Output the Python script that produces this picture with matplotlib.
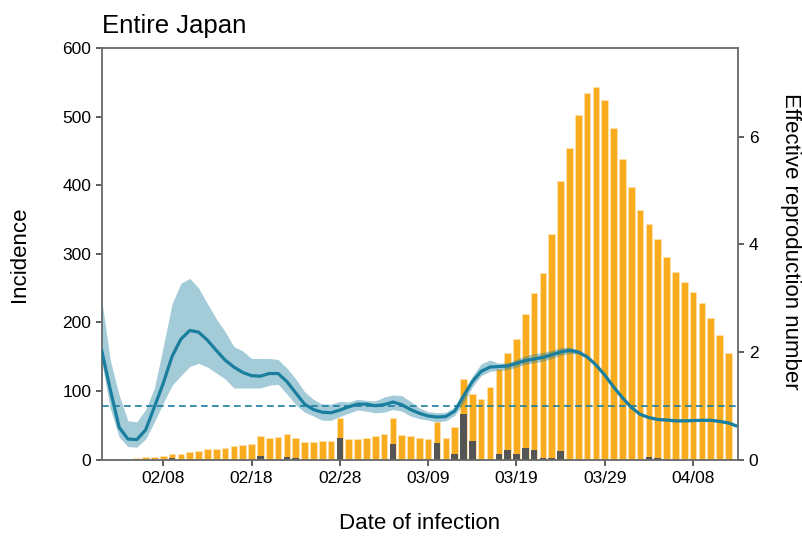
import matplotlib
matplotlib.use('Agg')
import matplotlib.pyplot as plt
import matplotlib.dates as mdates
import pandas as pd

plt.rcParams['font.family'] = ['Liberation Sans', 'DejaVu Sans']

# daily incidence by date of infection, 02/01 .. 04/12
bar_dates = pd.date_range('2020-02-01', '2020-04-12')
incidence = [0, 1, 1, 0, 2, 3, 4, 5.5, 8.5, 8.5,
             11, 13, 15.5, 16, 17, 19, 20.5, 23, 35, 31.5,
             33, 37.5, 32, 25.7, 26, 27, 27, 61, 29.6, 30.5,
             31.9, 34.4, 36.9, 60.3, 35.4, 33.7, 31.5, 30, 55, 31,
             47.5, 117, 96, 88, 106, 132, 156, 176, 213, 243,
             272, 329, 407, 454, 502, 535, 543, 524, 484, 438,
             398, 364, 344, 322, 295, 274, 258.5, 245, 228, 207,
             182, 155]
# imported cases (dark part of the bars)
imported = [0, 0, 0, 0, 0, 0, 0, 0, 2, 0,
            0, 0, 0, 0, 0, 0, 0, 0, 5.5, 0,
            0, 4.2, 1.5, 0, 0, 0, 0, 32, 0, 0,
            0, 0, 0, 23, 0, 0, 0, 0, 24.3, 0,
            8.3, 66, 26.5, 0, 0, 8.5, 14, 7.5, 17, 14,
            2, 2, 12.5, 0, 0, 0, 0, 0, 0, 0,
            0, 0, 3.5, 2.5, 0, 0, 0, 0, 0, 0,
            0, 0]

# effective reproduction number, 02/01 .. 04/13
rt_dates = pd.date_range('2020-02-01', '2020-04-13')
rt = [2.05, 1.30, 0.60, 0.38, 0.37, 0.55, 0.98, 1.42, 1.92, 2.24,
      2.40, 2.37, 2.22, 2.03, 1.85, 1.72, 1.62, 1.56, 1.55, 1.60,
      1.60, 1.45, 1.24, 1.03, 0.93, 0.88, 0.87, 0.92, 0.98, 1.03,
      1.03, 1.00, 1.02, 1.07, 1.02, 0.93, 0.86, 0.81, 0.79, 0.80,
      0.90, 1.18, 1.45, 1.64, 1.72, 1.73, 1.74, 1.79, 1.84, 1.87,
      1.90, 1.95, 2.00, 2.03, 2.00, 1.91, 1.76, 1.57, 1.35, 1.15,
      0.97, 0.84, 0.78, 0.745, 0.735, 0.72, 0.72, 0.725, 0.73, 0.73,
      0.71, 0.68, 0.62]
rt_upper = [3.00, 1.85, 1.20, 0.72, 0.70, 0.93, 1.33, 2.10, 2.90, 3.28,
            3.37, 3.19, 2.90, 2.62, 2.38, 2.10, 2.02, 1.88, 1.88, 1.88,
            1.86, 1.70, 1.50, 1.26, 1.12, 1.03, 1.03, 1.08, 1.07, 1.12,
            1.10, 1.09, 1.16, 1.20, 1.19, 1.08, 0.96, 0.89, 0.87, 0.88,
            0.98, 1.25, 1.55, 1.78, 1.85, 1.79, 1.80, 1.86, 1.93, 1.97,
            1.99, 2.03, 2.08, 2.09, 2.04, 1.94, 1.79, 1.60, 1.38, 1.17,
            0.99, 0.86, 0.80, 0.765, 0.755, 0.74, 0.74, 0.745, 0.75, 0.75,
            0.73, 0.70, 0.64]
rt_lower = [1.85, 0.95, 0.42, 0.24, 0.23, 0.38, 0.70, 1.05, 1.38, 1.56,
            1.73, 1.79, 1.72, 1.61, 1.50, 1.33, 1.33, 1.33, 1.33, 1.38,
            1.40, 1.22, 1.02, 0.88, 0.81, 0.73, 0.73, 0.80, 0.86, 0.92,
            0.90, 0.87, 0.88, 0.93, 0.90, 0.81, 0.76, 0.73, 0.70, 0.72,
            0.82, 1.05, 1.35, 1.56, 1.64, 1.66, 1.67, 1.72, 1.77, 1.80,
            1.83, 1.88, 1.94, 1.97, 1.96, 1.88, 1.73, 1.54, 1.32, 1.13,
            0.95, 0.82, 0.76, 0.725, 0.715, 0.70, 0.70, 0.705, 0.71, 0.71,
            0.69, 0.66, 0.60]

tick_dates = pd.date_range('2020-02-08', periods=7, freq='10D')

orange = '#F9AC1E'
dark = '#555555'
teal = '#1A7E9E'
spine_col = '#6E6E6E'

fig = plt.figure(figsize=(8.02, 5.36), dpi=100)
ax = fig.add_axes([0.1276, 0.1427, 0.9198 - 0.1276, 0.9099 - 0.1427])

ax.bar(bar_dates, incidence, width=0.75, color=orange,
       edgecolor='#FDE2AE', linewidth=0.6, zorder=2)
ax.bar(bar_dates, imported, width=0.75, color=dark, linewidth=0, zorder=3)

ax.set_ylim(0, 600)
ax.set_yticks(range(0, 601, 100))
ax.set_xlim(bar_dates[0] + pd.Timedelta(hours=2.4),
            rt_dates[-1] + pd.Timedelta(hours=1.2))
ax.set_xticks(tick_dates)
ax.xaxis.set_major_formatter(mdates.DateFormatter('%m/%d'))

ax2 = ax.twinx()
ax2.fill_between(rt_dates, rt_lower, rt_upper, color=teal, alpha=0.4,
                 linewidth=0, zorder=2)
ax2.plot(rt_dates, rt, color=teal, lw=2.3, zorder=3,
         solid_capstyle='butt')
ax2.axhline(1, color=teal, lw=1.2, dashes=(4, 2.6), zorder=4)
ax2.set_ylim(0, 7.65)
ax2.set_yticks([0, 2, 4, 6])

for a in (ax, ax2):
    for s in a.spines.values():
        s.set_color(spine_col)
        s.set_linewidth(1.1)
    a.tick_params(direction='out', length=4, width=1.1, color='#333333',
                  labelsize=12.5, pad=4)

ax.set_title('Entire Japan', loc='left', fontsize=18.5, pad=11)
ax.set_xlabel('Date of infection', fontsize=16, labelpad=20)
ax.set_ylabel('Incidence', fontsize=16)
ax.yaxis.set_label_coords(-0.114, 0.5)
ax2.set_ylabel('Effective reproduction number', fontsize=16,
               rotation=270, va='center')
ax2.yaxis.set_label_coords(1.083, 0.53)

fig.savefig('out.png', dpi=100)
